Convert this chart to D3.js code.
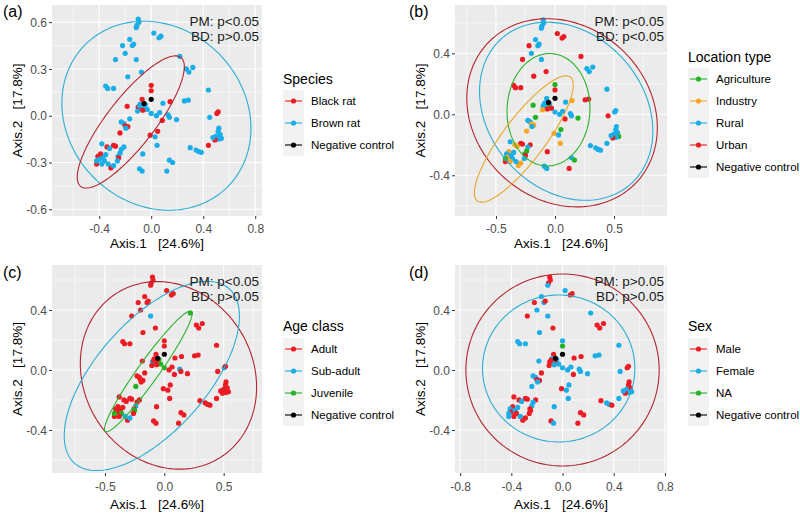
<!DOCTYPE html>
<html><head><meta charset="utf-8">
<script src="https://cdn.jsdelivr.net/npm/d3@7"></script>
<style>body{margin:0;background:#fff}svg{display:block}</style>
</head><body><svg id="c" width="800" height="514"></svg>
<script>
// ---- data: PCoA coordinates (shared by all four panels) ----
const axis1 = [-0.100,-0.095,-0.110,-0.115,0.020,0.060,0.075,-0.165,-0.145,-0.135,
 -0.220,-0.200,-0.275,-0.115,0.220,0.270,0.320,0.290,-0.075,-0.180,
 -0.350,-0.335,-0.290,0.440,0.255,0.285,0.090,0.145,0.000,0.000,
 -0.070,-0.085,-0.060,-0.045,-0.075,-0.050,-0.100,-0.030,-0.065,-0.090,
 -0.185,0.000,0.040,0.065,0.130,0.140,0.195,0.505,0.450,0.515,
 0.520,0.515,0.530,0.500,0.540,0.520,0.490,0.475,0.440,-0.008,
 0.050,0.030,0.045,0.300,0.345,0.365,0.385,0.140,0.165,0.120,
 -0.090,-0.070,-0.065,-0.165,-0.230,-0.210,-0.200,-0.180,-0.195,-0.240,
 -0.340,-0.290,-0.275,-0.380,-0.210,-0.230,-0.240,-0.255,-0.250,-0.320,
 -0.390,-0.410,-0.420,-0.400,-0.370,-0.360,-0.420,-0.380,-0.310,-0.290,
 -0.350,-0.330,-0.260,0.085,-0.105,0.000,-0.055];
const axis2 = [0.620,0.600,0.580,0.565,0.530,0.500,0.510,0.490,0.450,0.460,
 0.450,0.400,0.360,0.360,0.380,0.300,0.310,0.280,0.280,0.250,
 0.190,0.175,0.175,0.165,0.095,0.100,0.080,0.090,0.195,0.160,
 0.105,0.075,0.065,0.070,0.050,0.045,0.055,0.040,0.035,0.065,
 0.060,0.015,0.000,0.020,0.005,-0.010,-0.025,0.015,-0.010,0.025,
 -0.080,-0.100,-0.120,-0.130,-0.145,-0.150,-0.155,-0.140,-0.190,-0.125,
 -0.100,-0.135,-0.190,-0.205,-0.220,-0.230,-0.235,-0.285,-0.300,-0.355,
 -0.340,-0.355,-0.245,-0.020,-0.040,-0.050,-0.065,-0.070,-0.080,-0.110,
 -0.200,-0.190,-0.195,-0.180,-0.200,-0.215,-0.240,-0.260,-0.270,-0.210,
 -0.245,-0.260,-0.310,-0.280,-0.270,-0.290,-0.290,-0.310,-0.335,-0.320,
 -0.250,-0.310,-0.290,-0.030,0.030,0.105,0.078];
// group codes per sample
const species = ("B B B B B B B B B B B B B B B B B B B B B B B B B B B K K K " +
 "K B B B B B K B K B K B B B B B B K B K B B B B B B K B K K " +
 "K B B B B B B B B B B B B B B B K K B K K K K B B B B B K B " +
 "K K K B B B B B K B B B B K B N N").split(" ");
const locationType = ("R R R R U U U R R R U R U R U R R R U U U U U R U U R I A U " +
 "R R R R R A R U U R A R R R R R A R U R R R R R A R U R R I " +
 "A R I R R R R R A U R R U A R R I I R I I U U R U R A A U I " +
 "I R U I R R A I I I R R R U I N N").split(" ");
const ageClass = ("A A A A A A A A A A A A A S J A A A A A A A A A A A A A A A " +
 "A A A J A A S J A A A J A A S A A S A A A A A A A A A A A A " +
 "A A A A A A A A A A A A A A A A A A A J A A A A A A S A J A " +
 "A A A A A J J A A S A S A A A N N").split(" ");
const sex = ("M M M F F M M F F M M F M F F M M M M F F F F F F F M M F X " +
 "M F M F F M M F F M F F F F F F F M F M M M M F F F M F F M " +
 "F F F M F F M M M M M F F M F F M M F F M M M M M F F M M F " +
 "M F F M F M F M M M F F M M M N N").split(" ");

// legends
const speciesCats = ["K","B","N"], speciesLabels = ["Black rat","Brown rat","Negative control"];
const locationCats = ["A","I","R","U","N"], locationLabels = ["Agriculture","Industry","Rural","Urban","Negative control"];
const ageCats = ["A","S","J","N"], ageLabels = ["Adult","Sub-adult","Juvenile","Negative control"];
const sexCats = ["M","F","X","N"], sexLabels = ["Male","Female","NA","Negative control"];

// ellipses: [category, centre x, centre y, semi-axis a, semi-axis b, angle deg]
const ellipsesA = [["B",0.04,0.0,0.74,0.59,-18],["K",-0.157,-0.04,0.566,0.17,46]];
const ellipsesB = [["U",0.06,0.01,0.82,0.60,-15],["R",0.095,0.02,0.76,0.55,-22],
                   ["A",-0.055,0.03,0.37,0.35,75],["I",-0.264,-0.162,0.567,0.16,44.6]];
const ellipsesC = [["A",0.035,-0.036,0.755,0.61,-18],["S",-0.105,-0.04,0.88,0.41,38],["J",-0.135,-0.01,0.54,0.08,47.6]];
const ellipsesD = [["M",0.0,0.0,0.755,0.64,0],["F",-0.03,0.01,0.595,0.49,0]];

// tick labels
const ticksA = {x:[-0.4,0,0.4,0.8], y:[-0.6,-0.3,0,0.3,0.6], xm:[-0.6,-0.2,0.2,0.6], ym:[-0.45,-0.15,0.15,0.45]};
const ticksB = {x:[-0.5,0,0.5], y:[-0.4,0,0.4], xm:[-0.75,-0.25,0.25,0.75], ym:[-0.6,-0.2,0.2,0.6]};
const ticksD = {x:[-0.8,-0.4,0,0.4,0.8], y:[-0.4,0,0.4], xm:[-0.6,-0.2,0.2,0.6], ym:[-0.6,-0.2,0.2,0.6]};

const pmText = ["PM: p<0.05","PM: p<0.05","PM: p<0.05","PM: p>0.05"];
const bdText = ["BD: p>0.05","BD: p<0.05","BD: p>0.05","BD: p>0.05"];

// ---- styles ----
const RED="#EC1C24", BLUE="#19AEE8", GREEN="#22B322", ORANGE="#F6A623", BLACK="#000000";
const ERED="#B3262E", EBLUE="#2AAED6", EGREEN="#2DB22D", EORANGE="#E9A62A";
const FONT='"Liberation Sans", Arial, Helvetica, sans-serif';

const panels = [
 {tag:"(a)", group:species, cats:speciesCats, labels:speciesLabels, title:"Species",
  colors:[RED,BLUE,BLACK], ecolors:{K:ERED,B:EBLUE}, ell:ellipsesA, ticks:ticksA,
  box:{l:52,r:262,t:5,b:216}, xd:[-0.763,0.852], yd:[-0.643,0.710],
  tagX:3, tagY:17, legX:283, legTitleY:79, legY0:101, tickOff:12.5, titleOff:32},
 {tag:"(b)", group:locationType, cats:locationCats, labels:locationLabels, title:"Location type",
  colors:[GREEN,ORANGE,BLUE,RED,BLACK], ecolors:{U:ERED,R:EBLUE,A:EGREEN,I:EORANGE}, ell:ellipsesB, ticks:ticksB,
  box:{l:455,r:667,t:5,b:216}, xd:[-0.847,0.949], yd:[-0.667,0.717],
  tagX:409, tagY:17, legX:688, legTitleY:57, legY0:79, tickOff:12.5, titleOff:32},
 {tag:"(c)", group:ageClass, cats:ageCats, labels:ageLabels, title:"Age class",
  colors:[RED,BLUE,GREEN,BLACK], ecolors:{A:ERED,S:EBLUE,J:EGREEN}, ell:ellipsesC, ticks:ticksB,
  box:{l:52,r:262,t:265,b:473}, xd:[-0.946,0.823], yd:[-0.687,0.700],
  tagX:3, tagY:278, legX:283, legTitleY:326, legY0:349, tickOff:14, titleOff:36},
 {tag:"(d)", group:sex, cats:sexCats, labels:sexLabels, title:"Sex",
  colors:[RED,BLUE,GREEN,BLACK], ecolors:{M:ERED,F:EBLUE}, ell:ellipsesD, ticks:ticksD,
  box:{l:455,r:667,t:265,b:473}, xd:[-0.84,0.816], yd:[-0.687,0.700],
  tagX:409, tagY:278, legX:688, legTitleY:326, legY0:349, tickOff:14, titleOff:36}
];

const svg = d3.select("#c").style("font-family", FONT);
const fmt = v => (Math.abs(v) < 1e-9 ? 0 : v).toFixed(1);
const idx = d3.range(axis1.length);

panels.forEach((p, pi) => {
  const B = p.box;
  const x = d3.scaleLinear().domain(p.xd).range([B.l, B.r]);
  const y = d3.scaleLinear().domain(p.yd).range([B.b, B.t]);
  const color = d3.scaleOrdinal().domain(p.cats).range(p.colors);
  const g = svg.append("g");

  g.append("rect").attr("x",B.l).attr("y",B.t).attr("width",B.r-B.l).attr("height",B.b-B.t).attr("fill","#EBEBEB");
  const clipId = "clip"+pi;
  g.append("clipPath").attr("id",clipId).append("rect")
    .attr("x",B.l).attr("y",B.t).attr("width",B.r-B.l).attr("height",B.b-B.t);

  // grid
  const grid = g.append("g").attr("stroke","#fff");
  grid.selectAll(".xm").data(p.ticks.xm).join("line").attr("x1",d=>x(d)).attr("x2",d=>x(d)).attr("y1",B.t).attr("y2",B.b).attr("stroke-width",0.55);
  grid.selectAll(".ym").data(p.ticks.ym).join("line").attr("y1",d=>y(d)).attr("y2",d=>y(d)).attr("x1",B.l).attr("x2",B.r).attr("stroke-width",0.55);
  grid.selectAll(".xM").data(p.ticks.x).join("line").attr("x1",d=>x(d)).attr("x2",d=>x(d)).attr("y1",B.t).attr("y2",B.b).attr("stroke-width",1.1);
  grid.selectAll(".yM").data(p.ticks.y).join("line").attr("y1",d=>y(d)).attr("y2",d=>y(d)).attr("x1",B.l).attr("x2",B.r).attr("stroke-width",1.1);

  // axes
  const xa = g.append("g").attr("transform",`translate(0,${B.b})`)
    .call(d3.axisBottom(x).tickValues(p.ticks.x).tickFormat(fmt).tickSize(3).tickPadding(2));
  const ya = g.append("g").attr("transform",`translate(${B.l},0)`)
    .call(d3.axisLeft(y).tickValues(p.ticks.y).tickFormat(fmt).tickSize(3).tickPadding(2));
  [xa, ya].forEach(a => {
    a.select(".domain").remove();
    a.selectAll(".tick line").attr("stroke","#333").attr("stroke-width",1);
    a.selectAll(".tick text").attr("fill","#4D4D4D").style("font-size","12px").style("font-family",FONT);
  });
  xa.selectAll(".tick text").attr("dy",null).attr("y",p.tickOff+4.3);
  ya.selectAll(".tick text").attr("x",-5).attr("dy","0.35em");

  // points
  const pg = g.append("g").attr("clip-path",`url(#${clipId})`);
  const order = idx.filter(i => p.group[i] !== "N").concat(idx.filter(i => p.group[i] === "N"));
  pg.selectAll("circle").data(order).join("circle")
    .attr("cx",i=>x(axis1[i])).attr("cy",i=>y(axis2[i])).attr("r",2.6)
    .attr("fill",i=>color(p.group[i]));

  // ellipses
  const line = d3.line().x(d=>x(d[0])).y(d=>y(d[1]));
  p.ell.forEach(e => {
    const [cat,cx,cy,a,b,ang] = e;
    const r = ang*Math.PI/180, ca=Math.cos(r), sa=Math.sin(r);
    const pts = d3.range(0,181).map(k => {
      const t = 2*Math.PI*k/180, u=a*Math.cos(t), v=b*Math.sin(t);
      return [cx+u*ca-v*sa, cy+u*sa+v*ca];
    });
    pg.append("path").datum(pts).attr("d",line).attr("fill","none")
      .attr("stroke",p.ecolors[cat]).attr("stroke-width",1.1);
  });

  // annotations
  g.append("text").attr("x",B.r-3).attr("y",B.t+21).attr("text-anchor","end")
    .style("font-size","13.5px").attr("fill","#1A1A1A").text(pmText[pi]);
  g.append("text").attr("x",B.r-3).attr("y",B.t+36).attr("text-anchor","end")
    .style("font-size","13.5px").attr("fill","#1A1A1A").text(bdText[pi]);

  // axis titles
  g.append("text").attr("x",(B.l+B.r)/2).attr("y",B.b+p.titleOff).attr("text-anchor","middle")
    .style("font-size","13.5px").style("white-space","pre").attr("xml:space","preserve").text("Axis.1   [24.6%]");
  g.append("text").attr("transform",`translate(${B.l-30},${(B.t+B.b)/2}) rotate(-90)`).attr("text-anchor","middle")
    .style("font-size","13.5px").style("white-space","pre").attr("xml:space","preserve").text("Axis.2   [17.8%]");

  // tag
  g.append("text").attr("x",p.tagX).attr("y",p.tagY).style("font-size","16px").text(p.tag);

  // legend
  const L = g.append("g");
  L.append("text").attr("x",p.legX).attr("y",p.legTitleY+5).style("font-size","14px").text(p.title);
  const keyH = 22;
  L.append("rect").attr("x",p.legX).attr("y",p.legY0-keyH/2).attr("width",21).attr("height",keyH*p.cats.length).attr("fill","#F2F2F2");
  p.cats.forEach((c,k) => {
    const cy = p.legY0 + k*keyH;
    L.append("line").attr("x1",p.legX+2).attr("x2",p.legX+19).attr("y1",cy).attr("y2",cy)
      .attr("stroke",color(c)).attr("stroke-width",1.1);
    L.append("circle").attr("cx",p.legX+10.5).attr("cy",cy).attr("r",2.6).attr("fill",color(c));
    L.append("text").attr("x",p.legX+28).attr("y",cy+4).style("font-size","11.5px").text(p.labels[k]);
  });
});
</script></body></html>
